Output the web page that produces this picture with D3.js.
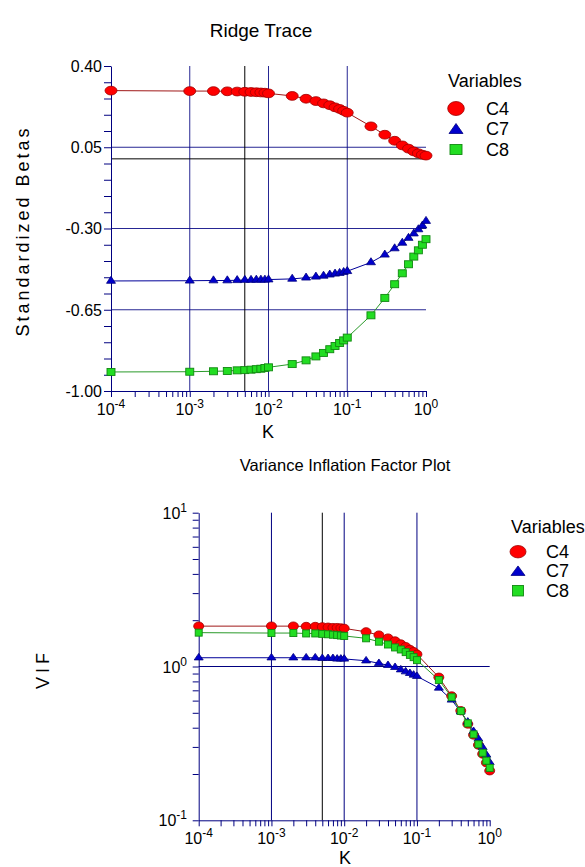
<!DOCTYPE html>
<html><head><meta charset="utf-8">
<script src="https://cdn.jsdelivr.net/npm/d3@7"></script>
<style>body{margin:0;background:#fff} svg{display:block;font-family:"Liberation Sans",Arial,sans-serif}</style>
</head><body><svg id="c" width="585" height="867"></svg>
<script>
// ---- data ----
const K = [0.0001,
  0.001,0.002,0.003,0.004,0.005,0.006,0.007,0.008,0.009,
  0.01,0.02,0.03,0.04,0.05,0.06,0.07,0.08,0.09,
  0.1,0.2,0.3,0.4,0.5,0.6,0.7,0.8,0.9,
  1.0];
const betaC4 = [0.294,
  0.292,0.292,0.291,0.290,0.289,0.288,0.287,0.286,0.285,
  0.282,0.271,0.259,0.249,0.239,0.231,0.222,0.215,0.207,
  0.199,0.140,0.104,0.078,0.058,0.044,0.032,0.024,0.018,
  0.014];
const betaC7 = [-0.526,
  -0.525,-0.524,-0.524,-0.523,-0.522,-0.522,-0.521,-0.521,-0.521,
  -0.520,-0.517,-0.512,-0.508,-0.504,-0.499,-0.495,-0.492,-0.488,
  -0.484,-0.446,-0.413,-0.386,-0.362,-0.341,-0.322,-0.304,-0.288,
  -0.268];
const betaC8 = [-0.918,
  -0.917,-0.915,-0.914,-0.911,-0.910,-0.908,-0.906,-0.904,-0.901,
  -0.898,-0.884,-0.868,-0.851,-0.836,-0.820,-0.806,-0.793,-0.782,
  -0.770,-0.674,-0.599,-0.540,-0.493,-0.454,-0.421,-0.394,-0.370,
  -0.346];
const vifC4 = [1.83,
  1.83,1.83,1.82,1.82,1.81,1.80,1.79,1.79,1.78,
  1.77,1.68,1.60,1.53,1.465,1.40,1.345,1.29,1.248,
  1.20,0.851,0.643,0.516,0.423,0.359,0.309,0.270,0.237,
  0.210];
const vifC7 = [1.14,
  1.14,1.14,1.14,1.14,1.13,1.13,1.13,1.12,1.12,
  1.12,1.09,1.049,1.018,0.988,0.953,0.925,0.903,0.881,
  0.864,0.725,0.606,0.508,0.436,0.379,0.338,0.298,0.266,
  0.238];
const vifC8 = [1.66,
  1.65,1.65,1.64,1.64,1.63,1.62,1.61,1.60,1.59,
  1.58,1.525,1.45,1.39,1.33,1.29,1.24,1.19,1.15,
  1.10,0.817,0.631,0.514,0.427,0.362,0.312,0.275,0.244,
  0.219];
const seriesNames = ["C4","C7","C8"];
const xMajor = [1e-4,1e-3,1e-2,1e-1,1];
const xExp = [-4,-3,-2,-1,0];
const betaTicks = [0.40,0.05,-0.30,-0.65,-1.00];
const betaTickLabels = ["0.40","0.05","-0.30","-0.65","-1.00"];
const vifMajor = [0.1,1,10];
const vifExp = [-1,0,1];
const selectedK = 0.005;

// ---- styles ----
const NAVY = "#000080";
const sty = {
  C4:{line:"#a01818", fill:"#ff0000", stroke:"#a00000", shape:"circle"},
  C7:{line:"#000099", fill:"#0000cc", stroke:"#000080", shape:"tri"},
  C8:{line:"#2a9a2a", fill:"#22dd22", stroke:"#118811", shape:"sq"}
};

const svg = d3.select("#c");

function minorLog(lo, hi){
  const out=[];
  for(let e=lo;e<hi;e++) for(let m=1;m<=9;m++) out.push(m*Math.pow(10,e));
  out.push(Math.pow(10,hi));
  return out;
}
function marker(g, shape, x, y, s, st){
  if(shape==="circle"){
    g.append("ellipse").attr("cx",x).attr("cy",y).attr("rx",s.rx).attr("ry",s.ry)
      .attr("fill",st.fill).attr("stroke",st.stroke).attr("stroke-width",0.8);
  } else if(shape==="tri"){
    const w=s.tw, h=s.th;
    g.append("path").attr("d",`M${x},${y-2*h/3}L${x+w/2},${y+h/3}L${x-w/2},${y+h/3}Z`)
      .attr("fill",st.fill).attr("stroke",st.stroke).attr("stroke-width",0.8);
  } else {
    g.append("rect").attr("x",x-s.sw/2).attr("y",y-s.sh/2).attr("width",s.sw).attr("height",s.sh)
      .attr("fill",st.fill).attr("stroke",st.stroke).attr("stroke-width",0.9);
  }
}
function powLabel(g, x, y, exp, anchor){
  const t=g.append("text").attr("x",x).attr("y",y).attr("text-anchor",anchor)
    .attr("font-size",16).attr("fill","#000");
  t.append("tspan").text("10");
  t.append("tspan").attr("font-size",12).attr("dy",-7).text(String(exp));
}
function styleAxis(g){
  g.selectAll("path,line").attr("stroke",NAVY).attr("stroke-width",1);
  g.selectAll("text").remove();
}

// =========== Chart 1: Ridge Trace ===========
{
  const x = d3.scaleLog().domain([1e-4,1]).range([111,426]);
  const y = d3.scaleLinear().domain([-1,0.4]).range([391,66]);
  const g = svg.append("g");
  // grid
  xMajor.slice(1,4).forEach(v=>g.append("line").attr("x1",x(v)).attr("x2",x(v)).attr("y1",y(0.4)).attr("y2",y(-1))
     .attr("stroke",NAVY).attr("stroke-opacity",0.85).attr("stroke-width",1));
  betaTicks.slice(1,4).forEach(v=>g.append("line").attr("x1",x(1e-4)).attr("x2",x(1)).attr("y1",y(v)).attr("y2",y(v))
     .attr("stroke",NAVY).attr("stroke-opacity",0.85).attr("stroke-width",1));
  // reference lines
  g.append("line").attr("x1",x(1e-4)).attr("x2",x(1)).attr("y1",y(0)).attr("y2",y(0)).attr("stroke","#000").attr("stroke-width",1);
  g.append("line").attr("x1",x(selectedK)).attr("x2",x(selectedK)).attr("y1",y(0.4)).attr("y2",y(-1)).attr("stroke","#000").attr("stroke-width",1);
  // axes
  const yMinor = d3.range(21).map(i=>-1+i*0.07);
  const ya = g.append("g").attr("transform",`translate(${x(1e-4)},0)`)
    .call(d3.axisLeft(y).tickValues(yMinor).tickSize(7).tickSizeOuter(0));
  styleAxis(ya);
  const xa = g.append("g").attr("transform",`translate(0,${y(-1)})`)
    .call(d3.axisBottom(x).tickValues(minorLog(-4,0)).tickSize(6).tickSizeOuter(0));
  styleAxis(xa);
  betaTicks.forEach((v,i)=>g.append("text").attr("x",102).attr("y",y(v)).attr("dy","0.36em")
     .attr("text-anchor","end").attr("font-size",16).text(betaTickLabels[i]));
  xMajor.forEach((v,i)=>powLabel(g, x(v), 415, xExp[i], "middle"));
  // series
  const data = [betaC4,betaC7,betaC8];
  const sz = {rx:6, ry:4.4, tw:9, th:7, sw:8, sh:7};
  data.forEach((arr,si)=>{
    const st = sty[seriesNames[si]];
    const line = d3.line().x((d,i)=>x(K[i])).y(d=>y(d));
    g.append("path").attr("d",line(arr)).attr("fill","none").attr("stroke",st.line).attr("stroke-width",1);
  });
  data.forEach((arr,si)=>{
    const st = sty[seriesNames[si]];
    arr.forEach((d,i)=>marker(g, st.shape, x(K[i]), y(d), sz, st));
  });
  // titles
  svg.append("text").attr("x",261).attr("y",37).attr("text-anchor","middle").attr("font-size",19).text("Ridge Trace");
  svg.append("text").attr("x",268).attr("y",438).attr("text-anchor","middle").attr("font-size",18).text("K");
  svg.append("text").attr("transform","translate(29,231) rotate(-90)").attr("text-anchor","middle")
    .attr("font-size",18).attr("letter-spacing","3px").text("Standardized Betas");
  // legend
  svg.append("text").attr("x",448).attr("y",87).attr("font-size",18).text("Variables");
  const lsz = {rx:8.3, ry:7, tw:14, th:10, sw:12, sh:10};
  const ly = [108.5,128.5,149.5];
  seriesNames.forEach((n,i)=>{
    const st=sty[n];
    const yy = st.shape==="tri" ? ly[i]+10/6 : ly[i];
    marker(svg, st.shape, 456, yy, lsz, st);
    svg.append("text").attr("x",486).attr("y",ly[i]+6.5).attr("font-size",18).text(n);
  });
}

// =========== Chart 2: VIF ===========
{
  const x = d3.scaleLog().domain([1e-4,1]).range([198.7,489.7]);
  const y = d3.scaleLog().domain([0.1,10]).range([820.3,512.7]);
  const g = svg.append("g");
  xMajor.slice(1,4).forEach(v=>g.append("line").attr("x1",x(v)).attr("x2",x(v)).attr("y1",y(10)).attr("y2",y(0.1))
     .attr("stroke",NAVY).attr("stroke-width",1));
  g.append("line").attr("x1",x(1e-4)).attr("x2",x(1)).attr("y1",y(1)).attr("y2",y(1)).attr("stroke",NAVY).attr("stroke-width",1);
  g.append("line").attr("x1",x(selectedK)).attr("x2",x(selectedK)).attr("y1",y(10)).attr("y2",y(0.1)).attr("stroke","#000").attr("stroke-width",1);
  const ya = g.append("g").attr("transform",`translate(${x(1e-4)},0)`)
    .call(d3.axisLeft(y).tickValues(minorLog(-1,1)).tickSize(6).tickSizeOuter(0));
  styleAxis(ya);
  const xa = g.append("g").attr("transform",`translate(0,${y(0.1)})`)
    .call(d3.axisBottom(x).tickValues(minorLog(-4,0)).tickSize(6).tickSizeOuter(0));
  styleAxis(xa);
  vifMajor.forEach((v,i)=>powLabel(g, 187, y(v)+6, vifExp[i], "end"));
  xMajor.forEach((v,i)=>powLabel(g, x(v), 844, xExp[i], "middle"));
  const data = [vifC4,vifC7,vifC8];
  const sz = {rx:5, ry:4.2, tw:9, th:6.5, sw:7, sh:7};
  data.forEach((arr,si)=>{
    const st = sty[seriesNames[si]];
    const line = d3.line().x((d,i)=>x(K[i])).y(d=>y(d));
    g.append("path").attr("d",line(arr)).attr("fill","none").attr("stroke",st.line).attr("stroke-width",1);
  });
  data.forEach((arr,si)=>{
    const st = sty[seriesNames[si]];
    arr.forEach((d,i)=>marker(g, st.shape, x(K[i]), y(d), sz, st));
  });
  svg.append("text").attr("x",345).attr("y",471).attr("text-anchor","middle").attr("font-size",16.5).text("Variance Inflation Factor Plot");
  svg.append("text").attr("x",345).attr("y",864).attr("text-anchor","middle").attr("font-size",18).text("K");
  svg.append("text").attr("transform","translate(49,669) rotate(-90)").attr("text-anchor","middle")
    .attr("font-size",18).attr("letter-spacing","4px").text("VIF");
  svg.append("text").attr("x",511).attr("y",533).attr("font-size",18).text("Variables");
  const lsz = {rx:8, ry:6.2, tw:14, th:9.5, sw:11, sh:10.5};
  const ly = [551.7,570.7,590.7];
  seriesNames.forEach((n,i)=>{
    const st=sty[n];
    const yy = st.shape==="tri" ? ly[i]+9.5/6 : ly[i];
    marker(svg, st.shape, 518, yy, lsz, st);
    svg.append("text").attr("x",546).attr("y",ly[i]+6.5).attr("font-size",18).text(n);
  });
}
</script></body></html>
